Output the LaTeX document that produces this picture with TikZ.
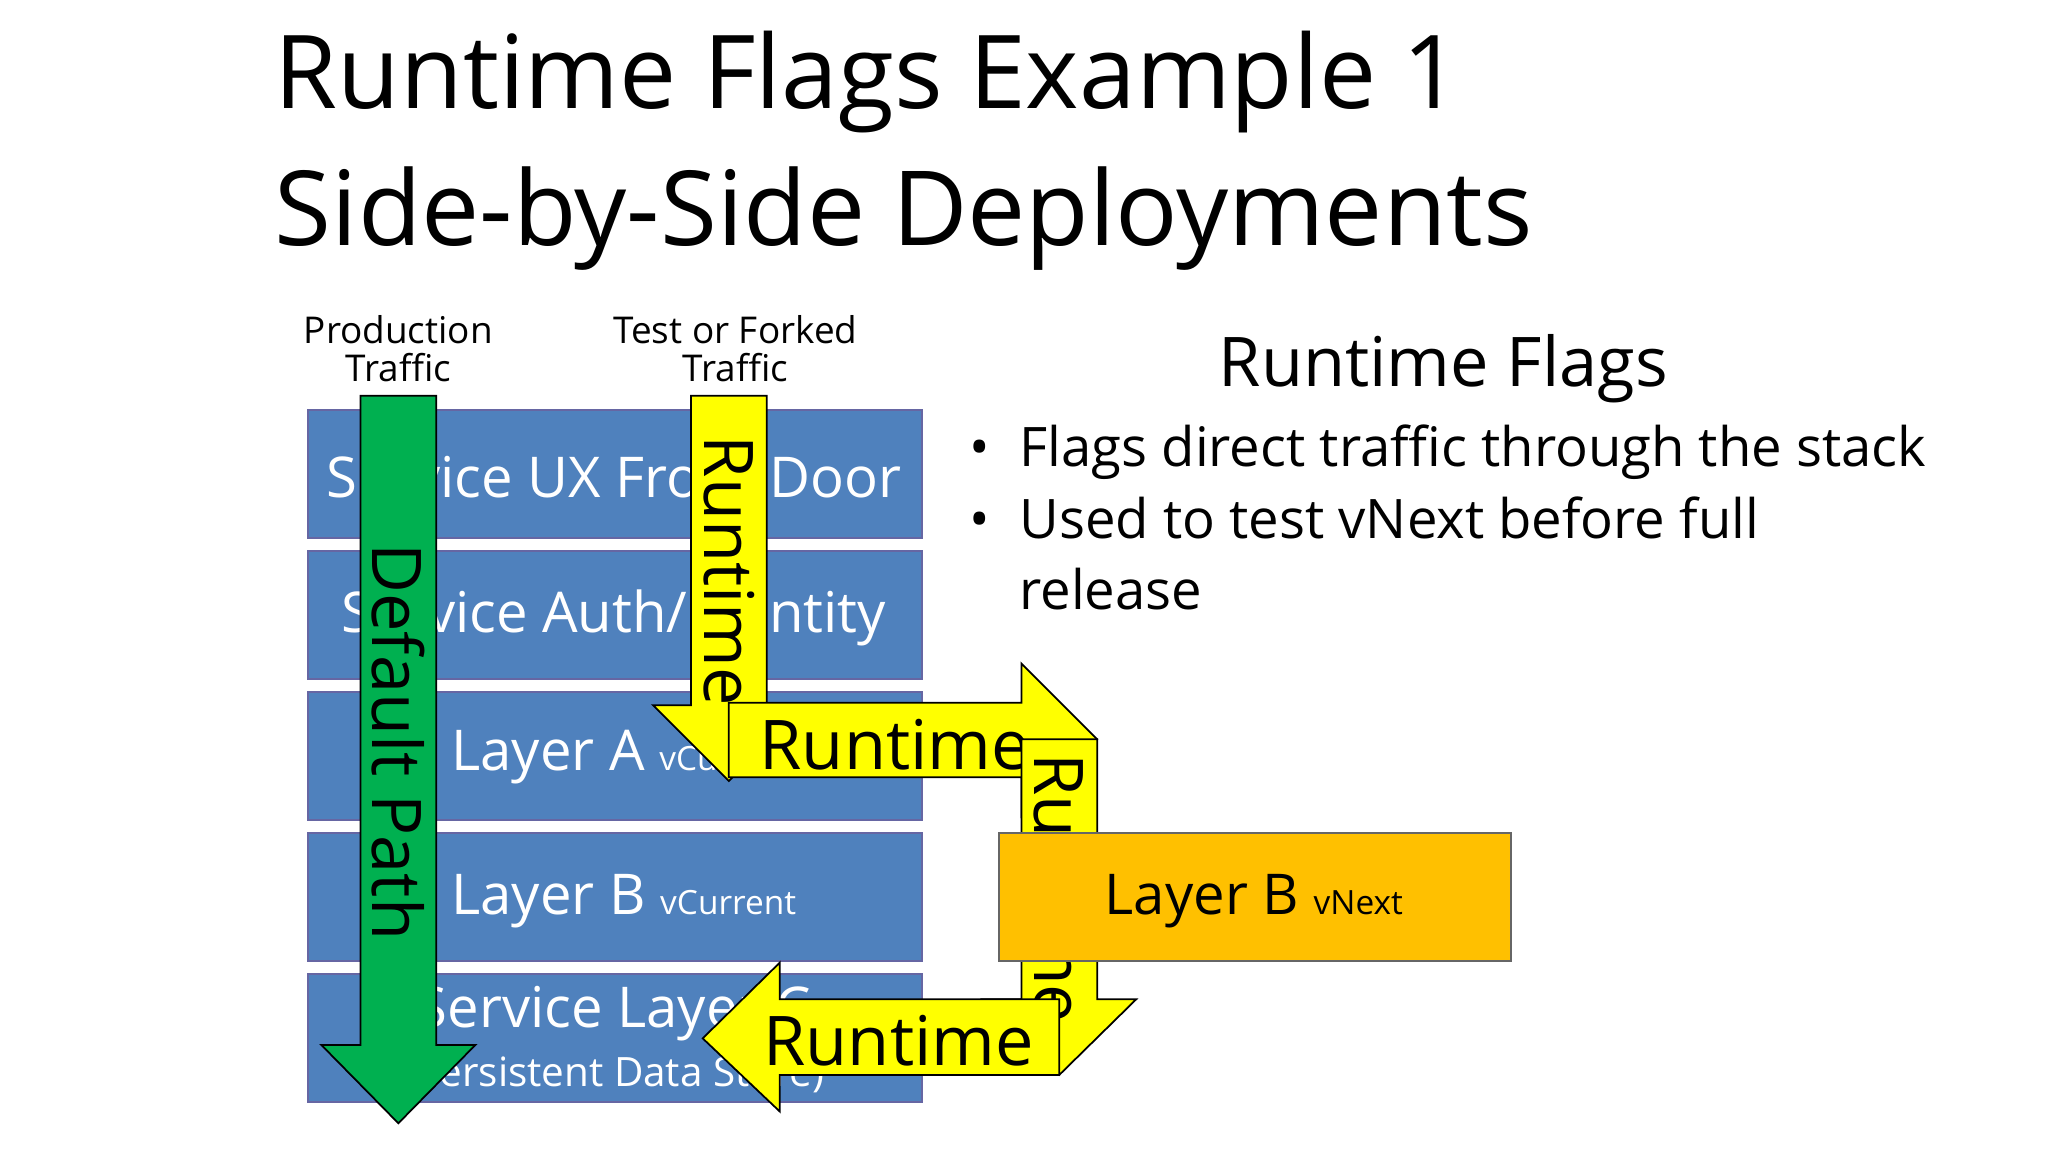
\documentclass[tikz,border=0pt]{standalone}
\usepackage{fontspec}
\setmainfont{Open Sans}
\begin{document}
\begin{tikzpicture}[x=0.0130612cm,y=-0.0130612cm,
 blk/.style={draw=black!60!blue!60,fill=blueF,line width=0.6pt,minimum width=470*0.0130612cm,minimum height=98*0.0130612cm,anchor=north west,inner sep=0pt},
 arr/.style={draw=black,line width=0.5pt,line join=miter},
 big/.style={font=\fontsize{16}{18}\selectfont,text=white},
 atxt/.style={font=\fontsize{19.5}{22}\selectfont},
 lbl/.style={font=\fontsize{10.5}{13}\selectfont,align=center}]
\definecolor{blueF}{HTML}{4F81BD}
\definecolor{grn}{HTML}{00B050}
\definecolor{yel}{HTML}{FFFF00}
\definecolor{org}{HTML}{FFC000}
\useasboundingbox (0,0) rectangle (1568,882);
\node[anchor=base west,font=\fontsize{29}{32}\selectfont,inner sep=0pt] (t1) at (210,83) {Runtime Flags Example 1};
\node[anchor=base west,font=\fontsize{29.5}{32}\selectfont,inner sep=0pt] (t2) at (210,188) {Side-by-Side Deployments};
\node[lbl] (pt) at (305,267) {Production\\[-2pt]Traffic};
\node[lbl] (tt) at (563,267) {Test or Forked\\[-2pt]Traffic};
% boxes
\node[blk] (b1) at (235,313) {};
\node[big] at (470,365) {Service UX Front Door};
\node[blk] (b2) at (235,421) {};
\node[big] at (470,473) {Service Auth/Identity};
\node[blk] (b3) at (235,529) {};
\node[big,anchor=west] at (336,580) {Layer A \fontsize{9.5}{11}\selectfont vCurrent};
\node[blk] (b4) at (235,637) {};
\node[big,anchor=west] at (336,690) {Layer B \fontsize{9.5}{11}\selectfont vCurrent};
\node[blk] (b5) at (235,745) {};
\node[big] at (470,776) {Service Layer C};
\node[text=white,font=\fontsize{11.5}{13}\selectfont] at (470,823) {(Persistent Data Store)};
% green arrow
\draw[arr,fill=grn] (276,303)--(334,303)--(334,800)--(364,800)--(305,860)--(246,800)--(276,800)--cycle;
\node[atxt,rotate=-90] (dp) at (305,568) {Default Path};
% yellow arrow 1
\draw[arr,fill=yel] (529,303)--(587,303)--(587,540)--(617,540)--(558,598)--(500,540)--(529,540)--cycle;
\node[atxt,rotate=-90] (r1) at (558,437) {Runtime};
% horizontal
\draw[arr,fill=yel] (558,538)--(782,538)--(782,508)--(840,566)--(782,625)--(782,595)--(558,595)--cycle;
\node[atxt] (r2) at (685,570) {Runtime};
% down
\draw[arr,fill=yel] (782,566)--(840,566)--(840,765)--(870,765)--(811,823)--(752,765)--(782,765)--cycle;
\node[atxt,rotate=-90] (r3) at (811,680) {Runtime};
% vNext box
\node[draw=black!60,fill=org,line width=0.6pt,minimum width=392*0.0130612cm,minimum height=98*0.0130612cm,anchor=north west,inner sep=0pt] (bn) at (764,637) {};
\node[font=\fontsize{16}{18}\selectfont] at (960,690) {Layer B \fontsize{9.5}{11}\selectfont vNext};
% left
\draw[arr,fill=yel] (811,765)--(811,823)--(597,823)--(597,851)--(538,795)--(597,737)--(597,765)--cycle;
\node[atxt] (r4) at (688,797) {Runtime};
% right text
\node[font=\fontsize{19.5}{22}\selectfont] (h) at (1105,282) {Runtime Flags};
\begin{scope}[every node/.style={anchor=base west,inner sep=0pt,font=\fontsize{15.5}{18}\selectfont}]
\node (bu1) at (742,357) {•};
\node (l1) at (780,357) {Flags direct traffic through the stack};
\node (bu2) at (742,412) {•};
\node (l2) at (780,412) {Used to test vNext before full};
\node (l3) at (780,467) {release};
\end{scope}
\end{tikzpicture}
\end{document}
